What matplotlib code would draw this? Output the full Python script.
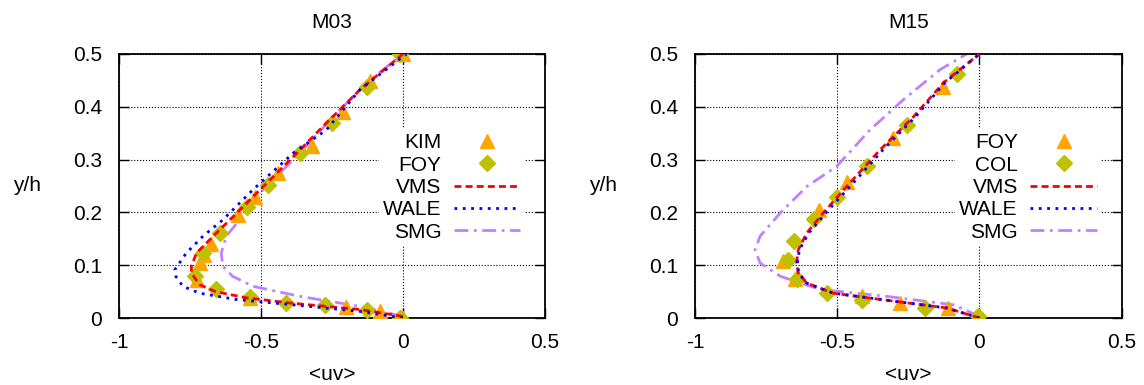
import matplotlib
matplotlib.use('Agg')
import matplotlib.pyplot as plt

plt.rcParams['font.family'] = ['Liberation Sans', 'DejaVu Sans']
plt.rcParams['font.size'] = 15

# ---- M03 panel ----
kim_x = [0.0, -0.081, -0.20, -0.54, -0.727, -0.716, -0.70, -0.675, -0.58, -0.52, -0.44, -0.32, -0.21, -0.117, 0.0]
kim_y = [0.0, 0.0126, 0.02, 0.038, 0.072, 0.104, 0.12, 0.14, 0.195, 0.23, 0.274, 0.325, 0.39, 0.448, 0.5]
foy1_x = [-0.011, -0.128, -0.275, -0.413, -0.54, -0.66, -0.733, -0.704, -0.645, -0.55, -0.475, -0.363, -0.25, -0.128, -0.011]
foy1_y = [0.0, 0.016, 0.025, 0.028, 0.04, 0.054, 0.079, 0.123, 0.16, 0.21, 0.252, 0.312, 0.369, 0.438, 0.5]
vms1_x = [0.0, -0.15, -0.39, -0.55, -0.66, -0.716, -0.745, -0.745, -0.727, -0.668, -0.598, -0.505, -0.387, -0.27, -0.152, 0.0]
vms1_y = [0.003, 0.016, 0.028, 0.038, 0.05, 0.063, 0.085, 0.098, 0.123, 0.155, 0.192, 0.242, 0.305, 0.369, 0.432, 0.5]
wale1_x = [0.0, -0.152, -0.387, -0.587, -0.716, -0.775, -0.80, -0.804, -0.763, -0.704, -0.634, -0.528, -0.387, -0.27, -0.152, 0.012]
wale1_y = [0.0, 0.0126, 0.025, 0.035, 0.047, 0.06, 0.079, 0.091, 0.123, 0.155, 0.186, 0.243, 0.312, 0.356, 0.432, 0.5]
smg1_x = [0.0, -0.152, -0.363, -0.528, -0.60, -0.634, -0.64, -0.622, -0.575, -0.493, -0.363, -0.246, -0.128, 0.0]
smg1_y = [0.003, 0.022, 0.041, 0.06, 0.079, 0.098, 0.123, 0.155, 0.186, 0.243, 0.312, 0.381, 0.445, 0.5]

# ---- M15 panel ----
foy2_x = [-0.004, -0.109, -0.279, -0.414, -0.648, -0.69, -0.563, -0.467, -0.303, -0.127]
foy2_y = [0.003, 0.019, 0.028, 0.041, 0.073, 0.107, 0.205, 0.258, 0.34, 0.438]
col_x = [-0.004, -0.191, -0.414, -0.535, -0.643, -0.672, -0.652, -0.58, -0.502, -0.396, -0.256, -0.08]
col_y = [0.003, 0.019, 0.035, 0.047, 0.073, 0.11, 0.145, 0.188, 0.23, 0.287, 0.366, 0.462]
vms2_x = [0.0, -0.115, -0.303, -0.514, -0.607, -0.637, -0.643, -0.637, -0.607, -0.549, -0.467, -0.35, -0.232, -0.127, 0.0]
vms2_y = [0.0, 0.019, 0.032, 0.047, 0.066, 0.085, 0.104, 0.129, 0.161, 0.199, 0.249, 0.318, 0.381, 0.445, 0.5]
wale2_x = [0.0, -0.115, -0.303, -0.514, -0.607, -0.635, -0.64, -0.633, -0.60, -0.54, -0.455, -0.34, -0.225, -0.122, 0.0]
wale2_y = [0.0, 0.019, 0.032, 0.047, 0.066, 0.085, 0.104, 0.129, 0.161, 0.199, 0.249, 0.318, 0.381, 0.445, 0.5]
smg2_x = [0.0, -0.092, -0.326, -0.56, -0.70, -0.771, -0.789, -0.771, -0.70, -0.607, -0.502, -0.385, -0.268, -0.139, -0.045]
smg2_y = [0.003, 0.025, 0.041, 0.054, 0.079, 0.104, 0.129, 0.155, 0.199, 0.249, 0.287, 0.356, 0.413, 0.47, 0.5]

orange = '#ffa500'
olive = '#c0c000'
lav = '#c080ff'

fig = plt.figure(figsize=(11.44, 3.85), dpi=100)
ax1 = fig.add_axes([0.104, 0.174, 0.3724, 0.686])
ax2 = fig.add_axes([0.6075, 0.174, 0.373, 0.686])


def draw(ax, title, m1, m2, vms, wale, smg):
    ax.plot(*m1[0], '^', color=orange, ms=10, label=m1[1], zorder=3)
    ax.plot(*m2[0], 'D', color=olive, ms=8, label=m2[1], zorder=3)
    ax.plot(*vms, '--', color='red', lw=2, dashes=(2.5, 1.5), label='VMS', zorder=4)
    ax.plot(*wale, ':', color='blue', lw=2, dashes=(1, 2), label='WALE', zorder=4)
    ax.plot(*smg, '-.', color=lav, lw=2, dashes=(5, 2, 1, 2), label='SMG', zorder=2)
    ax.set_xlim(-1, 0.5)
    ax.set_ylim(0, 0.5)
    ax.set_xticks([-1, -0.5, 0, 0.5])
    ax.set_xticklabels(['-1', '-0.5', '0', '0.5'])
    ax.set_yticks([0, 0.1, 0.2, 0.3, 0.4, 0.5])
    ax.set_yticklabels(['0', '0.1', '0.2', '0.3', '0.4', '0.5'])
    ax.grid(True, color='black', linestyle=':', linewidth=0.8)
    ax.tick_params(direction='in', top=True, right=True, length=7, width=1)
    ax.tick_params(axis='x', pad=11)
    ax.tick_params(axis='y', pad=12)
    for s in ax.spines.values():
        s.set_linewidth(1.3)
    ax.set_title(title, fontsize=15, pad=19)
    ax.set_xlabel('<uv>', labelpad=9)
    ax.set_ylabel('y/h', rotation=0, va='center', ha='left')
    ax.yaxis.set_label_coords(-0.248, 0.5)
    leg = ax.legend(loc='upper right', bbox_to_anchor=(0.952, 0.715), frameon=True,
                    markerfirst=False, handlelength=3.2, labelspacing=0.16,
                    borderpad=0.2, handletextpad=0.6, fancybox=False, numpoints=1,
                    borderaxespad=0)
    leg.get_frame().set_edgecolor('none')
    leg.get_frame().set_alpha(1)
    for t in leg.get_texts():
        t.set_ha('right')


draw(ax1, 'M03', ((kim_x, kim_y), 'KIM'), ((foy1_x, foy1_y), 'FOY'),
     (vms1_x, vms1_y), (wale1_x, wale1_y), (smg1_x, smg1_y))
draw(ax2, 'M15', ((foy2_x, foy2_y), 'FOY'), ((col_x, col_y), 'COL'),
     (vms2_x, vms2_y), (wale2_x, wale2_y), (smg2_x, smg2_y))

fig.savefig('out.png', dpi=100)
